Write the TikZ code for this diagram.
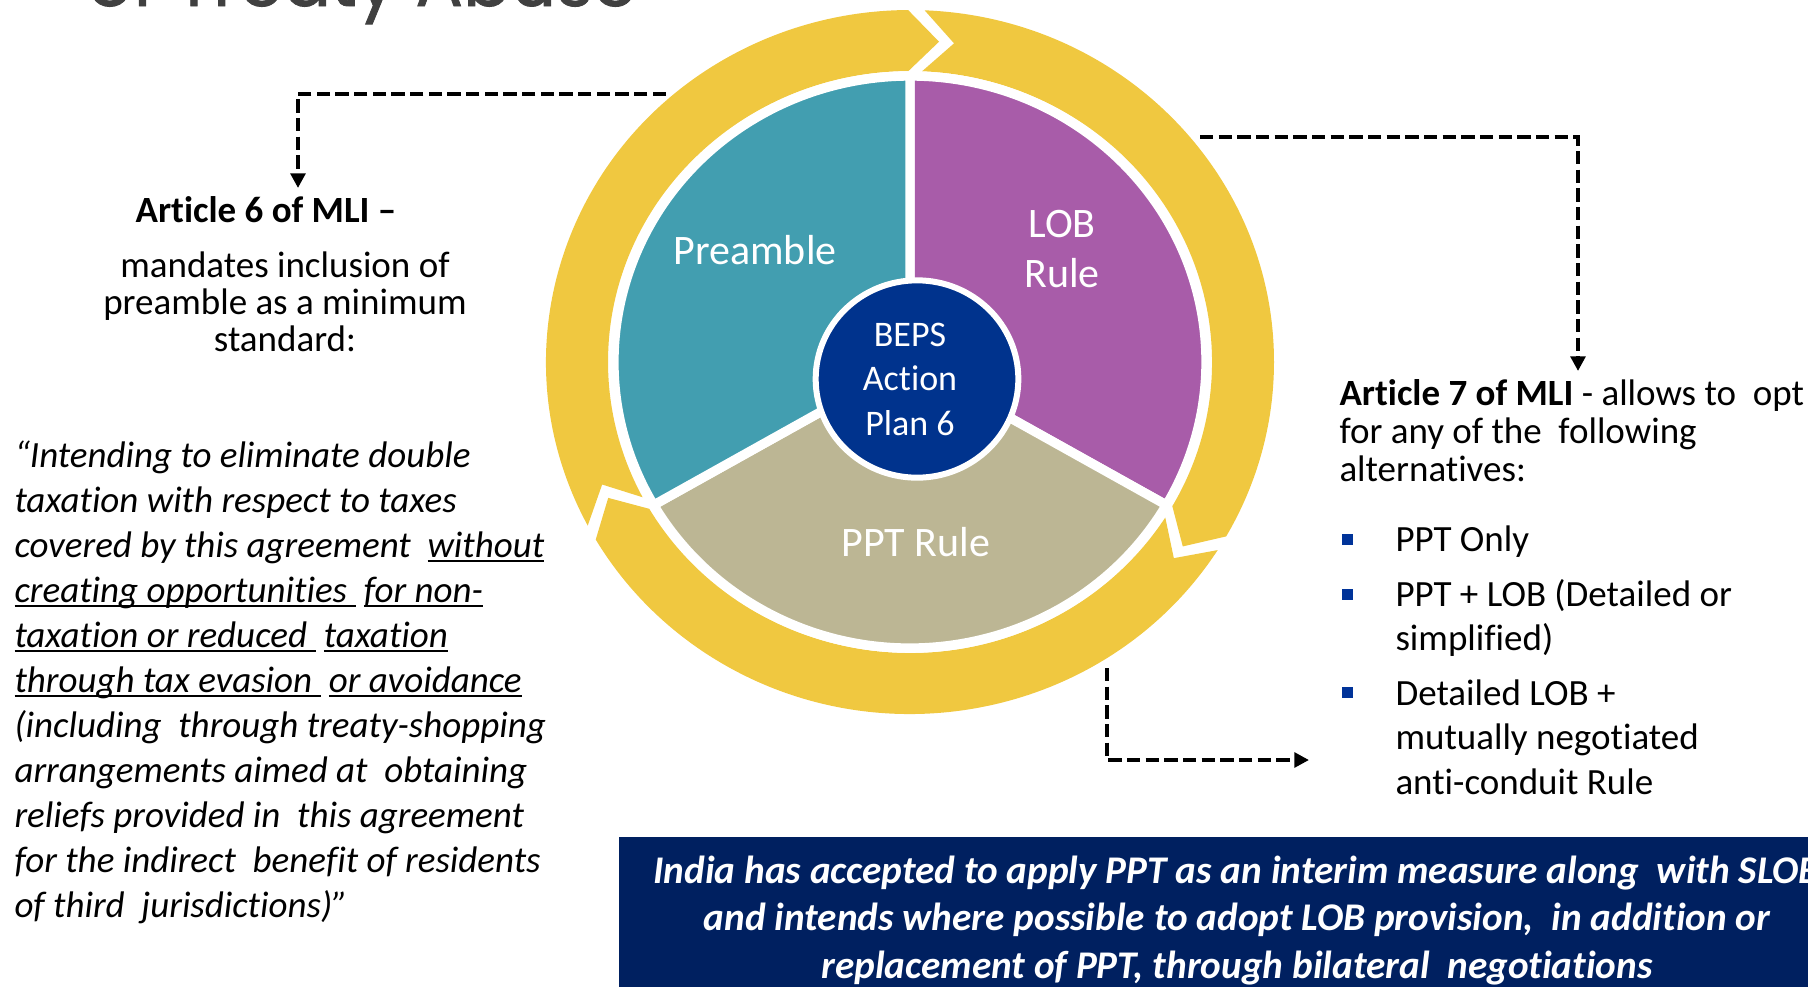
\documentclass[tikz,border=0pt]{standalone}
\usepackage{fontspec}
\setmainfont{Carlito}[Ligatures=NoCommon]
\newfontfamily\headfont{Poppins}[FakeBold=1.2]
\usetikzlibrary{arrows.meta,shapes.geometric}

\newsavebox{\qbox}
\newcommand{\qline}[1]{\sbox{\qbox}{#1}\rlap{\rule[-3.6pt]{\wd\qbox}{1.3pt}}\usebox{\qbox}}

\definecolor{ringyellow}{RGB}{240,200,64}
\definecolor{preteal}{RGB}{66,158,176}
\definecolor{lobpurple}{RGB}{168,92,169}
\definecolor{ppttan}{RGB}{188,182,148}
\definecolor{bepsblue}{RGB}{0,51,141}
\definecolor{noteblue}{RGB}{0,32,96}
\definecolor{bulletblue}{RGB}{0,51,153}
\definecolor{titlegray}{RGB}{64,64,64}

\tikzset{every picture/.style={line width=0.75pt}}
\tikzset{
  dashlink/.style={draw=black, line width=3pt, dash pattern=on 10pt off 4pt, -{Triangle[length=11pt,width=11pt]}},
  bodytxt/.style={inner sep=0pt, anchor=base west, font=\fontsize{27.75}{33}\selectfont},
  midtxt/.style={inner sep=0pt, anchor=base, font=\fontsize{27.75}{33}\selectfont},
  quotetxt/.style={inner sep=0pt, anchor=base west, font=\itshape\fontsize{27.75}{33}\selectfont},
  pielabel/.style={inner sep=0pt, anchor=base, text=white, font=\fontsize{31.5}{38}\selectfont},
  notetxt/.style={inner sep=0pt, anchor=base, text=white, font=\bfseries\itshape\fontsize{29.4}{36}\selectfont},
  bulletsq/.style={rectangle, fill=bulletblue, inner sep=0pt, minimum size=8.25pt},
}

\begin{document}
\begin{tikzpicture}[x=0.75pt,y=0.75pt,yscale=-1,xscale=1]
	\useasboundingbox (0,0) rectangle (1808,986);
	
	% Text Node (title, cut by the page edge)
	\node (title) [anchor=base west, inner sep=0pt, text=titlegray, font=\headfont\fontsize{53}{60}\selectfont] at (87,6) {of Treaty Abuse};
	
	%Shape: Ring of three arrows
	\foreach \b in {-89,31,151}{
		\fill[ringyellow] ({910+364*cos(\b+1.3)},{362+352*sin(\b+1.3)}) arc[start angle={\b+1.3}, end angle={\b+118.7}, x radius=364, y radius=352]
			-- ({910+333*cos(\b+124)},{362+321.5*sin(\b+124)})
			-- ({910+302*cos(\b+118.7)},{362+291*sin(\b+118.7)}) arc[start angle={\b+118.7}, end angle={\b+1.3}, x radius=302, y radius=291]
			-- ({910+333*cos(\b+6.6)},{362+321.5*sin(\b+6.6)}) -- cycle ;
	}
	
	%Shape: Pie sectors
	\filldraw[fill=lobpurple, draw=white, line width=7pt] (910,362) -- ({910+296*cos(-90)},{362+286*sin(-90)}) arc[start angle=-90, end angle=30, x radius=296, y radius=286] -- cycle ;
	\filldraw[fill=ppttan, draw=white, line width=7pt] (910,362) -- ({910+296*cos(30)},{362+286*sin(30)}) arc[start angle=30, end angle=150, x radius=296, y radius=286] -- cycle ;
	\filldraw[fill=preteal, draw=white, line width=7pt] (910,362) -- ({910+296*cos(150)},{362+286*sin(150)}) arc[start angle=150, end angle=270, x radius=296, y radius=286] -- cycle ;
	
	%Shape: Centre ellipse
	\node (beps) [ellipse, fill=bepsblue, draw=white, line width=4.5pt, minimum width=152pt, minimum height=148pt, inner sep=0pt] at (917,379) {};
	% Text Node
	\node (bepstext) [align=center, inner sep=0pt, text=white, font=\fontsize{27}{33.4}\selectfont] at (910,379) {BEPS\\Action\\Plan 6};
	
	% Text Node
	\node (preamble) [pielabel] at (755,264) {Preamble};
	% Text Node
	\node (lob) [pielabel] at (1062,237) {LOB};
	% Text Node
	\node (lobrule) [pielabel] at (1062,287) {Rule};
	% Text Node
	\node (ppt) [pielabel] at (916,556) {PPT Rule};
	
	%Straight Lines (dashed connectors)
	\coordinate (ring-nw) at (666,94);
	\coordinate (art6-top) at (298,188);
	\draw[dashlink] (ring-nw) -| (art6-top);
	\coordinate (ring-ne) at (1200,137);
	\coordinate (art7-top) at (1578,371);
	\draw[dashlink] (ring-ne) -| (art7-top);
	\coordinate (ring-s) at (1107,668);
	\coordinate (list-left) at (1309,760);
	\draw[dashlink] (ring-s) |- (list-left);
	
	% Text Node
	\node (art6) [midtxt, font=\bfseries\fontsize{27.75}{33}\selectfont] at (266,222) {Article 6 of MLI –};
	% Text Node
	\node (art6-1) [midtxt] at (285,277) {mandates inclusion of};
	\node (art6-2) [midtxt] at (285,314) {preamble as a minimum};
	\node (art6-3) [midtxt] at (285,351) {standard:};
	
	% Text Node (quote)
	\foreach \txt [count=\i] in {
		{“Intending to eliminate double},
		{taxation with respect to taxes},
		{covered by this agreement\ \ \qline{without}},
		{\qline{creating opportunities\ }\ \qline{for non-}},
		{\qline{taxation or reduced\ }\ \qline{taxation}},
		{\qline{through tax evasion\ }\ \qline{or avoidance}},
		{(including\ \ through treaty-shopping},
		{arrangements aimed at\ \ obtaining},
		{reliefs provided in\ \ this agreement},
		{for the indirect\ \ benefit of residents},
		{of third\ \ jurisdictions)”}}
		\node (quote-\i) [quotetxt] at (14,{467.5+44.95*(\i-1)}) {\txt};
	
	% Text Node
	\node (art7-1) [bodytxt] at (1339,405) {\textbf{Article 7 of MLI} - allows to\ \ opt};
	\node (art7-2) [bodytxt] at (1339,443) {for any of the\ \ following};
	\node (art7-3) [bodytxt] at (1339,481) {alternatives:};
	
	%Shape: Bullets
	\node (bul-1) [bulletsq] at (1347,539) {};
	\node (bul-2) [bulletsq] at (1347,594) {};
	\node (bul-3) [bulletsq] at (1347,692) {};
	% Text Node
	\node (opt-1) [bodytxt] at (1395,551) {PPT Only};
	\node (opt-2a) [bodytxt] at (1395,606) {PPT + LOB (Detailed or};
	\node (opt-2b) [bodytxt] at (1395,650) {simplified)};
	\node (opt-3a) [bodytxt] at (1395,705) {Detailed LOB +};
	\node (opt-3b) [bodytxt] at (1395,749) {mutually negotiated};
	\node (opt-3c) [bodytxt] at (1395,794) {anti-conduit Rule};
	
	%Shape: Rectangle (note box)
	\fill[noteblue] (619,837) rectangle (1820,1000);
	% Text Node
	\foreach \txt [count=\i] in {
		{India has accepted to apply PPT as an interim measure along\ \ with SLOB},
		{and intends where possible to adopt LOB provision,\ \ in addition or},
		{replacement of PPT, through bilateral\ \ negotiations}}
		\node (note-\i) [notetxt] at (1237,{883+47.5*(\i-1)}) {\txt};
	
\end{tikzpicture}
\end{document}
